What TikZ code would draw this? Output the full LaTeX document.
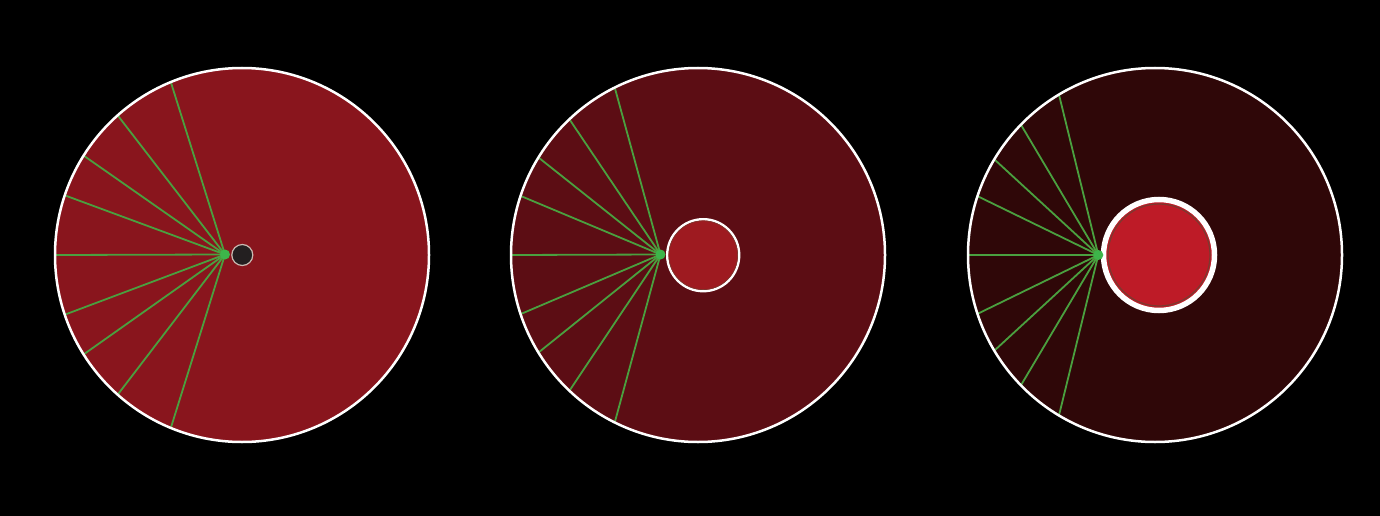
\documentclass[tikz,border=0pt]{standalone}
\usetikzlibrary{calc}
\definecolor{bg}{HTML}{000000}
\definecolor{discA}{HTML}{89151D}
\definecolor{discB}{HTML}{5C0D14}
\definecolor{discC}{HTML}{2F0708}
\definecolor{innerB}{HTML}{9E1A20}
\definecolor{innerC}{HTML}{BE1B27}
\definecolor{rim}{HTML}{7A3A30}
\definecolor{ray}{HTML}{4AA03F}
\definecolor{dot}{HTML}{3DB54A}
\definecolor{obst}{HTML}{231F20}
\definecolor{obstrim}{HTML}{C9BAB2}
\tikzset{
  bigdisc/.style={circle, minimum size=374pt, inner sep=0pt},
  bigrim/.style={circle, draw=white, line width=2.5pt, minimum size=374pt, inner sep=0pt},
  rayline/.style={draw=ray, line width=1.8pt},
  srcdot/.style={circle, fill=dot, minimum size=10pt, inner sep=0pt},
}
\begin{document}
\begin{tikzpicture}[x=1pt,y=-1pt]
\fill[bg] (0,0) rectangle (1380,516);
\useasboundingbox (0,0) rectangle (1380,516);

% ---------- disc 1 ----------
\node[bigdisc, fill=discA] (d1) at (242,255) {};
\coordinate (s1) at (225,254.5);
\foreach \a [count=\i] in {112.4,131.7,147.9,161.4,180,198.6,212.1,228.3,247.6}{
  \coordinate (e1-\i) at ($(d1.center)+(\a:186)$);
  \draw[rayline] (s1) -- (e1-\i);
}
\node[bigrim] (r1) at (242,255) {};
\node[circle, fill=obst, draw=obstrim, line width=1.2pt, minimum size=21pt, inner sep=0pt] (o1) at (242.3,255) {};
\node[srcdot] (p1) at (s1) {};

% ---------- disc 2 ----------
\node[bigdisc, fill=discB] (d2) at (698,255) {};
\coordinate (s2) at (660.5,254.5);
\foreach \a [count=\i] in {116.5,133.5,148.6,161.6,180,198.4,211.4,226.5,243.5}{
  \coordinate (e2-\i) at ($(d2.center)+(\a:186)$);
  \draw[rayline] (s2) -- (e2-\i);
}
\node[bigrim] (r2) at (698,255) {};
\node[circle, fill=innerB, draw=white, line width=2.4pt, minimum size=72pt, inner sep=0pt] (o2) at (703.2,255.2) {};
\draw[rim, line width=0.6pt] (o2.center) circle (34.4);
\node[srcdot] (p2) at (s2) {};

% ---------- disc 3 ----------
\node[bigdisc, fill=discC] (d3) at (1155,255) {};
\coordinate (s3) at (1098.3,255);
\foreach \a [count=\i] in {121.0,135.9,149.3,161.7,180,198.3,210.7,224.1,239.0}{
  \coordinate (e3-\i) at ($(d3.center)+(\a:186)$);
  \draw[rayline] (s3) -- (e3-\i);
}
\node[bigrim] (r3) at (1155,255) {};
\node[circle, fill=innerC, draw=white, line width=5.5pt, minimum size=111pt, inner sep=0pt] (o3) at (1159,255) {};
\draw[rim, line width=1.2pt] (o3.center) circle (51);
\node[srcdot] (p3) at (s3) {};
\end{tikzpicture}
\end{document}
